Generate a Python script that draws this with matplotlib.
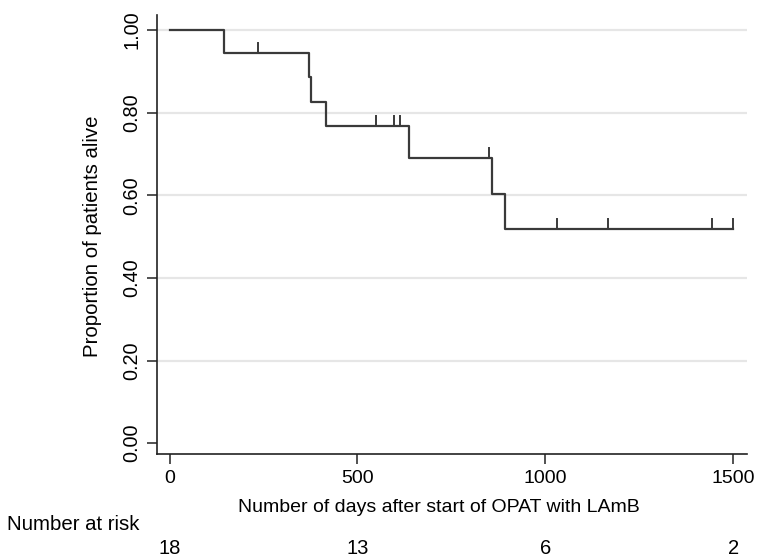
import matplotlib
matplotlib.use("Agg")
import matplotlib.pyplot as plt
import numpy as np

plt.rcParams['font.family'] = ['Liberation Sans', 'DejaVu Sans']

# Kaplan-Meier step function: times where survival changes and the level after each step
step_days = [0, 145, 370, 376, 415, 638, 857, 892]
survival = [1.000, 0.944, 0.885, 0.826, 0.767, 0.690, 0.604, 0.518]
end_day = 1499

# Censored observations (days)
censor_days = [235, 549, 596, 612, 849, 1031, 1167, 1445, 1499]

# Number-at-risk table
risk_days = [0, 500, 1000, 1500]
risk_counts = [18, 13, 6, 2]

x_ticks = [0, 500, 1000, 1500]
y_ticks = [0.0, 0.2, 0.4, 0.6, 0.8, 1.0]

line_col = '#3a3a3a'

fig = plt.figure(figsize=(7.58, 5.58), dpi=100)
ax = fig.add_axes([0.2067, 0.1858, 0.985 - 0.2067, 0.973 - 0.1858])

ax.set_xlim(-34.6, 1536)
ax.set_ylim(-0.027, 1.036)

# light horizontal grid
for yv in y_ticks[1:]:
    ax.axhline(yv, color='#e6e6e6', lw=1.6, zorder=0)

# survival curve
xs = list(step_days) + [end_day]
ys = list(survival) + [survival[-1]]
ax.step(xs, ys, where='post', color=line_col, lw=1.6, zorder=3)

# censor marks: short upward ticks on the curve
def surv_at(t):
    idx = np.searchsorted(step_days, t, side='right') - 1
    return survival[idx]

for c in censor_days:
    s = surv_at(c)
    ax.plot([c, c], [s, s + 0.024], color=line_col, lw=1.4, zorder=3)

for side in ['top', 'right']:
    ax.spines[side].set_visible(False)
for side in ['left', 'bottom']:
    ax.spines[side].set_linewidth(1.2)
    ax.spines[side].set_color('#222222')

ax.set_xticks(x_ticks)
ax.set_xticklabels([str(v) for v in x_ticks], fontsize=14)
ax.set_yticks(y_ticks)
ax.set_yticklabels([f"{v:.2f}" for v in y_ticks], fontsize=14.3, rotation=90, va='center')
ax.tick_params(axis='both', length=7, width=1.1, color='#222222', pad=4)

fig.text(439 / 758, 1 - 508 / 558, 'Number of days after start of OPAT with LAmB',
         ha='center', va='center', fontsize=14)
fig.text(93 / 758, 1 - 236 / 558, 'Proportion of patients alive',
         ha='center', va='center', rotation=90, fontsize=14.7)

fig.text(7 / 758, 1 - 524 / 558, 'Number at risk', ha='left', va='center', fontsize=14.7)
for d, n in zip(risk_days, risk_counts):
    xd = ax.transData.transform((d, 0))[0]
    fig.text(xd / 758, 1 - 549 / 558, str(n), ha='center', va='center', fontsize=14.5)

fig.savefig('out.png', dpi=100)
